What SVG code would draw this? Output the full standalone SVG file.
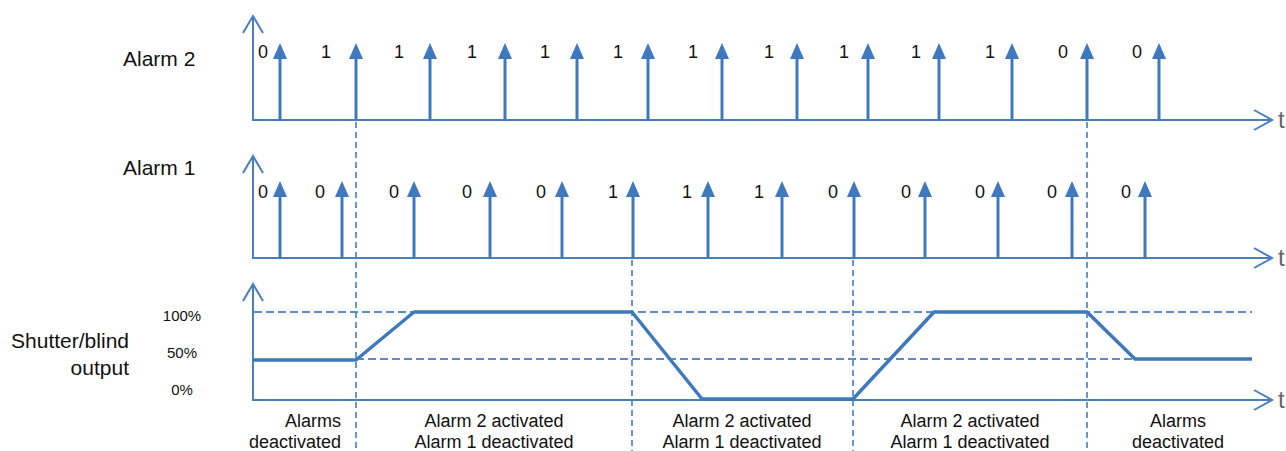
<svg xmlns="http://www.w3.org/2000/svg" width="1286" height="451" viewBox="0 0 1286 451">
<defs>
<style>
.ax{stroke:#4a7ebf;stroke-width:2;fill:none}
.chev{stroke:#4a7ebf;stroke-width:2;fill:none;stroke-linejoin:miter}
.stem{stroke:#3f78bd;stroke-width:3}
.head{fill:#3f78bd}
.dash{stroke:#5a8bc8;stroke-width:1.8;stroke-dasharray:8 4;fill:none}
.vdash{stroke:#5a8bc8;stroke-width:1.8;stroke-dasharray:6 4;fill:none}
.out{stroke:#3f78bd;stroke-width:3.5;fill:none;stroke-linejoin:round}
.lbl{font-family:"Liberation Sans",Arial,sans-serif;fill:#111}
.big{font-size:21px}
.dig{font-size:18px;text-anchor:middle}
.pct{font-size:15px;text-anchor:middle}
.bot{font-size:18px;text-anchor:middle}
.t{font-family:"Liberation Sans",Arial,sans-serif;font-size:24px;fill:#666}
</style>
<g id="imp"><line class="stem" x1="0" y1="0" x2="0" y2="-64"/><polygon class="head" points="0,-78 -7,-62 7,-62"/></g>
</defs>

<g id="labels">
<text class="lbl big" x="123" y="66">Alarm 2</text>
<text class="lbl big" x="123" y="175">Alarm 1</text>
<text class="lbl big" x="129" y="348" text-anchor="end">Shutter/blind</text>
<text class="lbl big" x="129" y="375" text-anchor="end">output</text>
<text class="lbl pct" x="182" y="321">100%</text>
<text class="lbl pct" x="182" y="358">50%</text>
<text class="lbl pct" x="182" y="395">0%</text>
</g>

<g id="guides">
<line class="vdash" x1="356" y1="122" x2="356" y2="451"/>
<line class="vdash" x1="1087" y1="122" x2="1087" y2="451"/>
<line class="vdash" x1="632" y1="260" x2="632" y2="451"/>
<line class="vdash" x1="853" y1="260" x2="853" y2="451"/>
<line class="dash" x1="254" y1="312" x2="1252" y2="312"/>
<line class="dash" x1="356" y1="359" x2="1252" y2="359"/>
</g>

<g id="alarm2">
<path class="ax" d="M253,16 V120 H1272"/>
<path class="chev" d="M243,33 L253,16 L263,33"/>
<path class="chev" d="M1254,110 L1272,120 L1254,130"/>
<text class="t" x="1278" y="128">t</text>
<g transform="translate(0,121)">
<use href="#imp" x="280"/><use href="#imp" x="356"/><use href="#imp" x="430"/><use href="#imp" x="505"/><use href="#imp" x="577"/><use href="#imp" x="648"/><use href="#imp" x="722"/><use href="#imp" x="797"/><use href="#imp" x="868"/><use href="#imp" x="939"/><use href="#imp" x="1012"/><use href="#imp" x="1087"/><use href="#imp" x="1159"/>
</g>
<g class="lbl dig">
<text x="263" y="58">0</text><text x="326" y="58">1</text><text x="399" y="58">1</text><text x="472" y="58">1</text><text x="545" y="58">1</text><text x="618" y="58">1</text><text x="693" y="58">1</text><text x="769" y="58">1</text><text x="844" y="58">1</text><text x="916" y="58">1</text><text x="990" y="58">1</text><text x="1063" y="58">0</text><text x="1137" y="58">0</text>
</g>
</g>

<g id="alarm1">
<path class="ax" d="M253,156 V258 H1272"/>
<path class="chev" d="M243,173 L253,156 L263,173"/>
<path class="chev" d="M1254,248 L1272,258 L1254,268"/>
<text class="t" x="1278" y="266">t</text>
<g transform="translate(0,259)">
<use href="#imp" x="280"/><use href="#imp" x="342"/><use href="#imp" x="414"/><use href="#imp" x="490"/><use href="#imp" x="562"/><use href="#imp" x="633"/><use href="#imp" x="708"/><use href="#imp" x="782"/><use href="#imp" x="854"/><use href="#imp" x="925"/><use href="#imp" x="998"/><use href="#imp" x="1072"/><use href="#imp" x="1145"/>
</g>
<g class="lbl dig">
<text x="263" y="198">0</text><text x="320" y="198">0</text><text x="394" y="198">0</text><text x="467" y="198">0</text><text x="541" y="198">0</text><text x="613" y="198">1</text><text x="687" y="198">1</text><text x="759" y="198">1</text><text x="833" y="198">0</text><text x="906" y="198">0</text><text x="980" y="198">0</text><text x="1052" y="198">0</text><text x="1126" y="198">0</text>
</g>
</g>

<g id="shutter">
<path class="ax" d="M253,284 V400 H1272"/>
<path class="chev" d="M243,301 L253,284 L263,301"/>
<path class="chev" d="M1254,390 L1272,400 L1254,410"/>
<text class="t" x="1278" y="408">t</text>
<polyline class="out" points="253,360 356,360 414,312 632,312 702,399 853,399 934,312 1087,312 1135,359 1252,359"/>
</g>

<g id="phases" class="lbl bot">
<text x="341" y="427" text-anchor="end">Alarms</text>
<text x="341" y="448" text-anchor="end">deactivated</text>
<text x="494" y="427">Alarm 2 activated</text>
<text x="494" y="448">Alarm 1 deactivated</text>
<text x="742" y="427">Alarm 2 activated</text>
<text x="742" y="448">Alarm 1 deactivated</text>
<text x="970" y="427">Alarm 2 activated</text>
<text x="970" y="448">Alarm 1 deactivated</text>
<text x="1178" y="427">Alarms</text>
<text x="1178" y="448">deactivated</text>
</g>
</svg>
